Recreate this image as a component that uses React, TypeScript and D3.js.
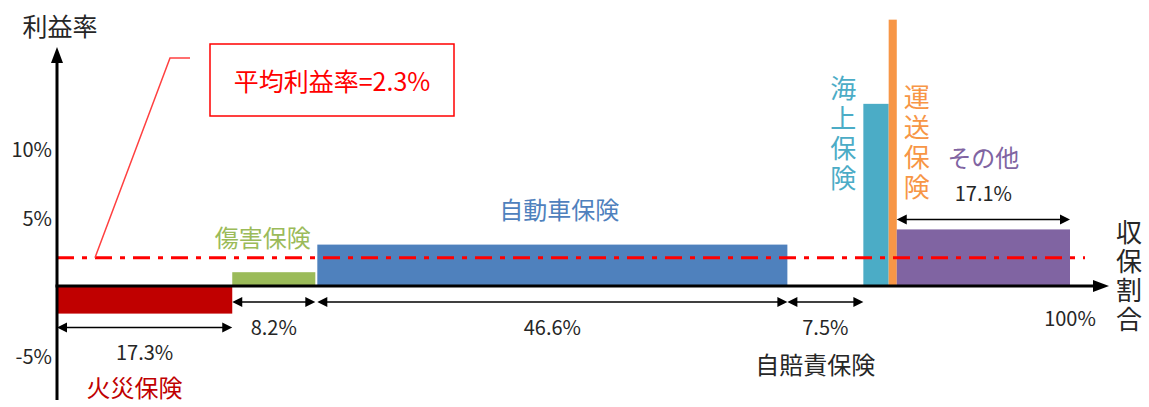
import React from 'react';
import * as d3 from 'd3';

// ---- data ----
const categories = ['火災保険', '傷害保険', '自動車保険', '自賠責保険', '海上保険', '運送保険', 'その他'];
const shares = [17.3, 8.2, 46.6, 7.5, 2.5, 0.8, 17.1]; // 収保割合 (%)
const profitRates = [-2.0, 1.0, 3.0, 0, 13.2, 19.3, 4.1]; // 利益率 (%)
const shareLabels = ['17.3%', '8.2%', '46.6%', '7.5%', '', '', '17.1%'];
const barColors = ['#c00000', '#9bbb59', '#4f81bd', '#4bacc6', '#4bacc6', '#f79646', '#8064a2'];
const labelColors = ['#c00000', '#9bbb59', '#4f81bd', '#262626', '#4bacc6', '#f79646', '#8064a2'];
const yTicks = [-5, 5, 10];
const xEndLabel = '100%';
const averageRate = 2.05;
const averageLabel = '平均利益率=2.3%';
const yTitle = '利益率';
const xTitle = '収保割合';

const FONT = '"Noto Sans CJK JP", "Noto Sans", sans-serif';
const TXT = '#262626';

function DimArrow({ x0, x1, y }: { x0: number; x1: number; y: number }) {
  const h = 10, w = 5;
  return (
    <g>
      <line x1={x0 + 4} x2={x1 - 4} y1={y} y2={y} stroke="#000" strokeWidth={1.5} />
      <path d={`M${x0},${y}L${x0 + h},${y - w}L${x0 + h},${y + w}Z`} fill="#000" />
      <path d={`M${x1},${y}L${x1 - h},${y - w}L${x1 - h},${y + w}Z`} fill="#000" />
    </g>
  );
}

// vertical text: y = centre of the first character
function VText({ text, x, y, step, color, size }: { text: string; x: number; y: number; step: number; color: string; size: number }) {
  return (
    <text
      x={x}
      y={y - size / 2}
      fill={color}
      fontSize={size}
      fontFamily={FONT}
      style={{ writingMode: 'vertical-rl', letterSpacing: `${step - size}px` } as React.CSSProperties}
    >
      {text}
    </text>
  );
}

export default function App() {
  const W = 1149, H = 407;
  const x = d3.scaleLinear().domain([0, 100]).range([57, 1070]);
  const y = d3.scaleLinear().domain([0, 10]).range([286, 148]);
  const ends = d3.cumsum(shares);
  const segs = categories.map((name, i) => ({
    name,
    i,
    s0: i ? ends[i - 1] : 0,
    s1: ends[i],
    v: profitRates[i],
  }));
  const y0 = y(0);
  const yAvg = y(averageRate);
  const axisLeft = x(0);

  const cx = (s: typeof segs[0]) => (x(s.s0) + x(s.s1)) / 2;

  return (
    <div style={{ position: 'fixed', left: 0, top: 0 }}>
      <svg width={W} height={H} style={{ display: 'block', background: '#fff' }} fontFamily={FONT}>
        {/* bars */}
        {segs.map((s) =>
          s.v === 0 ? null : (
            <rect
              key={s.name}
              x={x(s.s0) + (s.i === 2 ? 2 : 0)}
              width={x(s.s1) - x(s.s0) - (s.i === 2 ? 2 : 0)}
              y={Math.min(y(s.v), y0)}
              height={Math.abs(y(s.v) - y0)}
              fill={barColors[s.i]}
            />
          )
        )}

        {/* average line */}
        <line x1={axisLeft} x2={1085} y1={yAvg} y2={yAvg} stroke="#ff0000" strokeWidth={3} strokeDasharray="17 8 5 8" />

        {/* axes */}
        <line x1={axisLeft} x2={axisLeft} y1={58} y2={400} stroke="#000" strokeWidth={3} />
        <path d={`M${axisLeft},47L${axisLeft - 6},63L${axisLeft + 6},63Z`} fill="#000" />
        <line x1={axisLeft - 1.5} x2={1098} y1={y0} y2={y0} stroke="#000" strokeWidth={3} />
        <path d={`M1109,${y0}L1093,${y0 - 6}L1093,${y0 + 6}Z`} fill="#000" />

        {/* y ticks */}
        {yTicks.map((t) => (
          <text key={t} x={52} y={y(t)} textAnchor="end" dominantBaseline="central" fontSize={20} fill={TXT}>
            {t + '%'}
          </text>
        ))}
        <text x={60} y={25} textAnchor="middle" dominantBaseline="central" fontSize={25} fill={TXT}>
          {yTitle}
        </text>
        <VText text={xTitle} x={1129} y={232} step={29} color={TXT} size={26} />
        <text x={x(100)} y={317} textAnchor="middle" dominantBaseline="central" fontSize={20} fill={TXT}>
          {xEndLabel}
        </text>

        {/* dimension arrows + share labels */}
        {segs.map((s) => {
          if (!shareLabels[s.i]) return null;
          const x0 = x(s.s0) + (s.i === 2 ? 2 : 0);
          const x1 = x(s.s1);
          let ay: number, ly: number;
          if (s.v < 0) {
            ay = y(s.v) + 14;
            ly = ay + 24;
          } else if (s.i === segs.length - 1) {
            ay = y(s.v) - 10;
            ly = ay - 27;
          } else {
            ay = y0 + 16;
            ly = ay + 24;
          }
          return (
            <g key={'d' + s.name}>
              <DimArrow x0={x0} x1={x1} y={ay} />
              <text x={(x0 + x1) / 2} y={ly} textAnchor="middle" dominantBaseline="central" fontSize={20} fill={TXT}>
                {shareLabels[s.i]}
              </text>
            </g>
          );
        })}

        {/* category labels */}
        <text x={cx(segs[0]) - 10} y={y(profitRates[0]) + 73} textAnchor="middle" dominantBaseline="central" fontSize={24} fill={labelColors[0]}>
          {categories[0]}
        </text>
        <text x={cx(segs[1]) - 11} y={y(profitRates[1]) - 36} textAnchor="middle" dominantBaseline="central" fontSize={24} fill={labelColors[1]}>
          {categories[1]}
        </text>
        <text x={cx(segs[2]) + 8} y={y(profitRates[2]) - 36} textAnchor="middle" dominantBaseline="central" fontSize={24} fill={labelColors[2]}>
          {categories[2]}
        </text>
        <text x={cx(segs[3]) - 10} y={y0 + 77} textAnchor="middle" dominantBaseline="central" fontSize={24} fill={labelColors[3]}>
          {categories[3]}
        </text>
        <VText text={categories[4]} x={x(segs[4].s0) - 20} y={y(profitRates[4]) - 16} step={30} color={labelColors[4]} size={26} />
        <VText text={categories[5]} x={x(segs[5].s1) + 20} y={97} step={30} color={labelColors[5]} size={26} />
        <text x={cx(segs[6])} y={y(profitRates[6]) - 73} textAnchor="middle" dominantBaseline="central" fontSize={24} fill={labelColors[6]}>
          {categories[6]}
        </text>

        {/* average callout */}
        <polyline points={`${x(3.75)},${yAvg} ${170},${58} ${190},${58}`} fill="none" stroke="#ff4040" strokeWidth={1.5} />
        <rect x={210} y={44} width={244} height={72} fill="#fff" stroke="#ff0000" strokeWidth={1.5} />
        <text x={332} y={80} textAnchor="middle" dominantBaseline="central" fontSize={25} fill="#ff0000">
          {averageLabel}
        </text>
      </svg>
    </div>
  );
}
